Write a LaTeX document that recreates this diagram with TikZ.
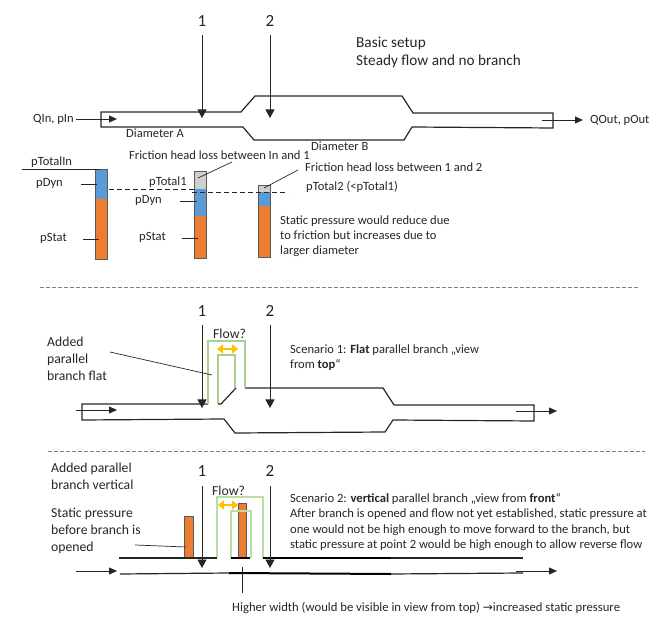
\documentclass[tikz,border=0pt]{standalone}
\usepackage{fontspec}
\setmainfont{Carlito}
\usetikzlibrary{arrows.meta}
\definecolor{barblue}{HTML}{5B9BD5}
\definecolor{barorange}{HTML}{ED7D31}
\definecolor{bargrey}{HTML}{CFCFCF}
\definecolor{branchgreen}{HTML}{A9D18E}
\definecolor{branchlight}{HTML}{BCDCA6}
\definecolor{flowyellow}{HTML}{FFC000}
\definecolor{inkc}{HTML}{262626}
\tikzset{
  x=1pt,y=-1pt,
  pipe/.style={draw=inkc,line width=1.2pt,line join=miter},
  thick pipe/.style={draw=black,line width=2pt},
  branch/.style={draw=branchgreen,line width=1.2pt},
  branch light/.style={draw=branchlight,line width=1.1pt},
  leader/.style={draw=inkc,line width=.7pt},
  flow/.style={draw=inkc,line width=.8pt,-{Triangle[length=8pt,width=7pt]}},
  marker/.style={draw=inkc,line width=.8pt,-{Triangle[length=8.5pt,width=9pt]}},
  dashline/.style={draw=inkc,line width=.7pt,dash pattern=on 5pt off 3pt},
  sep/.style={draw=gray,line width=.9pt,dash pattern=on 4pt off 2pt},
  yarrow/.style={draw=flowyellow,line width=2pt,{Triangle[length=6pt,width=9pt]}-{Triangle[length=6pt,width=9pt]}},
  lbl/.style={anchor=west,inner sep=0pt,font=\fontsize{12.55}{15.1}\selectfont,text=inkc,align=left},
  mid/.style={anchor=west,inner sep=0pt,font=\fontsize{13.7}{16.8}\selectfont,text=inkc,align=left},
  big/.style={anchor=west,inner sep=0pt,font=\fontsize{15.25}{18.6}\selectfont,text=inkc,align=left},
  num/.style={anchor=center,inner sep=0pt,font=\fontsize{17}{20}\selectfont,text=inkc},
  barpart/.style={draw=gray!70!black,line width=.6pt},
}
\begin{document}
\begin{tikzpicture}
\useasboundingbox (0,0) rectangle (667,620);
% section 1: pipe
\draw[pipe] (101,112) -- (241,112) -- (255,96) -- (402,96) -- (413,113) -- (553,113) -- (553,128) -- (412,127) -- (404,140) -- (254,140) -- (243,127) -- (101,127) -- cycle;
\node[num] (n1a) at (202,21) {1};
\node[num] (n2a) at (270,21) {2};
\coordinate (m1a) at (202,118);
\coordinate (m2a) at (270,118);
\draw[marker] (202,35) -- (m1a);
\draw[marker] (270,35) -- (m2a);
\node[big] (title) at (356,52.5) {Basic setup\\Steady flow and no branch};
\node[lbl] (qin) at (33,119) {QIn, pIn};
\node[lbl] (qout) at (590,120.5) {QOut, pOut};
\coordinate (qinE) at (117,119);
\coordinate (qoutS) at (542,120);
\coordinate (qoutE) at (583,120);
\draw[flow] (76,119) -- (qinE);
\draw[flow] (qoutS) -- (qoutE);
\node[lbl] (da) at (126,133.5) {Diameter A};
\node[lbl] (db) at (311,146.5) {Diameter B};
% bars
\fill[barblue] (95,169) rectangle (107,199);
\fill[barorange] (95,199) rectangle (107,259);
\draw[barpart] (95,169) rectangle (107,259);
\fill[bargrey] (194,171) rectangle (206,189);
\fill[barblue] (194,189) rectangle (206,216);
\fill[barorange] (194,216) rectangle (206,258);
\draw[barpart] (194,171) rectangle (206,258);
\fill[bargrey] (258,185) rectangle (270,192);
\fill[barblue] (258,192) rectangle (270,206);
\fill[barorange] (258,206) rectangle (270,257);
\draw[barpart] (258,185) rectangle (270,257);
\draw[dashline] (109,189) -- (194,189);
\draw[dashline] (192,192) -- (288,192);
\node[lbl] (ptin) at (31,162.5) {pTotalIn};
\draw[leader] (22,169) -- (100,169);
\node[lbl] (pd1) at (36,183.5) {pDyn};
\draw[leader] (81,184) -- (97,184);
\node[lbl] (ps1) at (40,238) {pStat};
\draw[leader] (83,239) -- (99,239);
\node[lbl] (pt1) at (149,182) {pTotal1};
\node[lbl] (pd2) at (135,200) {pDyn};
\draw[leader] (180,201) -- (197,201);
\node[lbl] (ps2) at (139,237) {pStat};
\draw[leader] (182,238) -- (198,238);
\node[lbl] (f1) at (129,155.5) {Friction head loss between In and 1};
\draw[leader] (198,178) -- (232,162);
\node[lbl] (f2) at (305,167) {Friction head loss between 1 and 2};
\draw[leader] (264,188) -- (298,170);
\node[lbl] (pt2) at (306,186.5) {pTotal2 (<pTotal1)};
\node[lbl] (st) at (280,236) {Static pressure would reduce due\\to friction but increases due to\\larger diameter};
% separators
\draw[sep] (40,287) -- (638,287);
\draw[sep] (48,451) -- (645,451);
% section 2
\draw[pipe] (208,404) -- (82,404) -- (82,420) -- (224,419) -- (235,433) -- (385,432) -- (393,420) -- (534,421) -- (534,405) -- (394,405) -- (383,388) -- (245,388);
\draw[branch] (208,404) -- (208,341) -- (245,341) -- (245,388);
\draw[branch] (218,404) -- (218,355) -- (235,355) -- (235,388);
\draw[pipe] (218,404) -- (221,404) -- (236,388);
\draw[yarrow] (217,349) -- (238,349);
\node[num] (n1b) at (202,311) {1};
\node[num] (n2b) at (270,311) {2};
\coordinate (m1b) at (202,408);
\coordinate (m2b) at (270,408);
\draw[marker] (202,325) -- (m1b);
\draw[marker] (270,325) -- (m2b);
\draw[flow] (76,410) -- (117,410);
\draw[flow] (516,411) -- (557,411);
\node[mid] (fl1) at (213,333.5) {Flow?};
\node[mid] (add1) at (47,358.5) {Added\\parallel\\branch flat};
\draw[leader] (110,352) -- (212,375);
\node[lbl] (sc1) at (290,357.5) {Scenario 1: \textbf{Flat} parallel branch „view\\from \textbf{top}“};
% section 3
\fill[barorange] (184,516) rectangle (193,558);
\fill[barorange] (238,503) rectangle (246,558);
\draw[barpart] (184,516) rectangle (193,558);
\draw[barpart] (238,503) rectangle (246,558);
\draw[branch light] (217,558) -- (217,497) -- (263,497) -- (263,558);
\draw[branch light] (231,558) -- (231,511) -- (251,511) -- (251,558);
\draw[pipe] (119,558) -- (217,558);
\draw[thick pipe] (231,558) -- (250,558);
\draw[thick pipe] (263,558) -- (391,558);
\draw[pipe] (391,558) -- (523,558);
\draw[pipe] (120,574) -- (229,573);
\draw[thick pipe] (229,573) -- (391,574);
\draw[pipe] (391,574) -- (523,573);
\draw[yarrow] (218,505) -- (238,505);
\node[num] (n1c) at (202,471) {1};
\node[num] (n2c) at (270,471) {2};
\coordinate (m1c) at (202,568);
\coordinate (m2c) at (270,568);
\draw[marker] (202,486) -- (m1c);
\draw[marker] (270,486) -- (m2c);
\draw[flow] (76,571) -- (117,571);
\draw[flow] (516,571) -- (557,571);
\node[mid] (fl2) at (212,491) {Flow?};
\node[mid] (add2) at (51,476) {Added parallel\\branch vertical};
\node[mid] (stat) at (51,531) {Static pressure\\before branch is\\opened};
\draw[leader] (135,545) -- (186,547);
\draw[leader] (242,567) -- (242,593);
\node[lbl,font=\fontsize{12.6}{15.1}\selectfont] (sc2) at (290,522) {Scenario 2: \textbf{vertical} parallel branch „view from \textbf{front}“\\After branch is opened and flow not yet established, static pressure at\\one would not be high enough to move forward to the branch, but\\static pressure at point 2 would be high enough to allow reverse flow};
\node[lbl,font=\fontsize{12.7}{15.1}\selectfont] (hw) at (232,608) {Higher width (would be visible in view from top) {\fontspec{DejaVu Sans}\fontsize{12}{12}\selectfont →}increased static pressure};
\end{tikzpicture}
\end{document}
